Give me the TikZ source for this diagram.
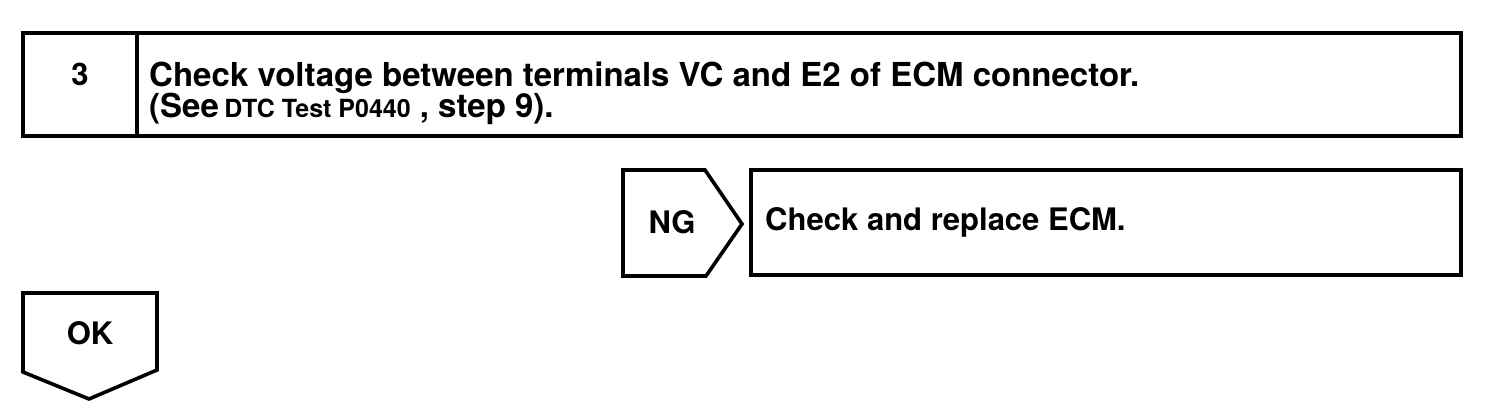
\documentclass[tikz,border=0pt]{standalone}
\usepackage{fontspec}
\setmainfont{TeX Gyre Heros}
\begin{document}
\begin{tikzpicture}[x=1pt,y=-1pt,
  frame/.style={draw=black,line width=3.6pt,line join=miter},
  big/.style={font=\bfseries\fontsize{33}{38}\selectfont,inner sep=0pt},
  mid/.style={font=\bfseries\fontsize{31}{36}\selectfont,inner sep=0pt},
]
\useasboundingbox (0,0) rectangle (1504,420);
% top step box
\draw[frame] (23,33) rectangle (1461,136);
\draw[frame] (137,33) -- (137,136);
\node[mid] (num) at (80,74) {3};
\node[big,anchor=base west] (l1) at (149,86) {Check voltage between terminals VC and E2 of ECM connector.};
\node[big,anchor=base west] (l2) at (149,117) {(See\,{\fontsize{25}{30}\selectfont DTC Test P0440} , step 9).};
% NG arrow and result box
\draw[frame] (623,170) -- (705,170) -- (742,224) -- (706,276) -- (623,276) -- cycle;
\node[mid] (ng) at (672,222) {NG};
\draw[frame] (751,170) rectangle (1461,275);
\node[mid,anchor=west] (res) at (765,222) {Check and replace ECM.};
% OK arrow
\draw[frame] (23,293) -- (157,293) -- (157,370) -- (89,399) -- (23,372) -- cycle;
\node[mid] (ok) at (90,333) {OK};
\end{tikzpicture}
\end{document}
